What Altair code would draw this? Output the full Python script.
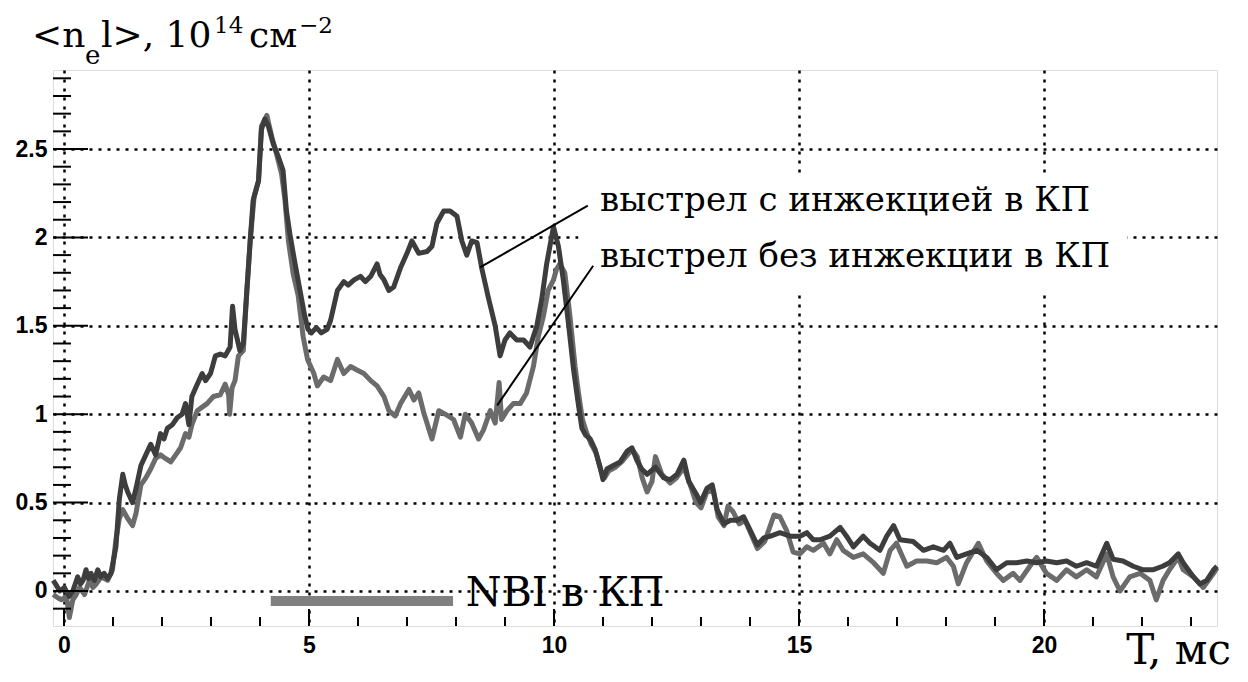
import altair as alt
import pandas as pd

# ---- series: shot with NBI injection into the plug (dark) ----
A_t = [-0.22, -0.15, -0.09, 0.01, 0.06, 0.11, 0.18, 0.28, 0.34, 0.39, 0.45, 0.50, 0.55, 0.62, 0.69, 0.75, 0.82, 0.89, 0.96,
       1.06, 1.13, 1.20, 1.25, 1.30, 1.40, 1.47, 1.57, 1.67, 1.77, 1.87, 1.97, 2.04, 2.11, 2.21, 2.31, 2.41, 2.48, 2.55,
       2.61, 2.72, 2.82, 2.89, 2.99, 3.09, 3.19, 3.29, 3.39, 3.44, 3.49, 3.59, 3.66, 3.73, 3.80, 3.86, 3.97, 4.03, 4.10,
       4.17, 4.27, 4.37, 4.47, 4.54, 4.61, 4.71, 4.81, 4.91, 4.98, 5.05, 5.15, 5.25, 5.37, 5.44, 5.58, 5.71, 5.80, 5.92,
       6.05, 6.15, 6.26, 6.39, 6.45, 6.53, 6.63, 6.73, 6.87, 7.00, 7.10, 7.24, 7.41, 7.51, 7.61, 7.75, 7.88, 8.02, 8.12,
       8.22, 8.32, 8.43, 8.53, 8.66, 8.80, 8.90, 9.00, 9.10, 9.24, 9.38, 9.51, 9.65, 9.75, 9.85, 9.99, 10.09, 10.19, 10.30,
       10.40, 10.50, 10.57, 10.65, 10.74, 10.84, 10.94, 11.00, 11.08, 11.21, 11.35, 11.49, 11.59, 11.69, 11.79, 11.90,
       12.07, 12.24, 12.37, 12.51, 12.65, 12.75, 12.92, 12.99, 13.12, 13.23, 13.33, 13.47, 13.60, 13.74, 13.87, 14.01,
       14.15, 14.28, 14.42, 14.61, 14.82, 15.02, 15.16, 15.29, 15.43, 15.63, 15.84, 15.97, 16.11, 16.31, 16.45, 16.65,
       16.79, 16.93, 17.06, 17.33, 17.54, 17.74, 17.95, 18.08, 18.22, 18.42, 18.63, 18.83, 19.03, 19.24, 19.44, 19.65,
       19.85, 20.05, 20.26, 20.46, 20.66, 20.87, 21.07, 21.28, 21.41, 21.61, 21.82, 22.02, 22.22, 22.42, 22.56, 22.74,
       22.84, 23.05, 23.18, 23.32, 23.46, 23.53]
A_y = [0.06, 0.03, 0.00, 0.02, -0.01, -0.03, 0.00, 0.08, 0.04, 0.06, 0.12, 0.07, 0.10, 0.06, 0.12, 0.08, 0.10, 0.07, 0.10,
       0.25, 0.52, 0.66, 0.60, 0.56, 0.50, 0.58, 0.71, 0.77, 0.83, 0.77, 0.89, 0.86, 0.92, 0.94, 0.98, 1.00, 1.06, 0.94,
       1.10, 1.17, 1.23, 1.19, 1.23, 1.33, 1.34, 1.33, 1.38, 1.61, 1.48, 1.36, 1.40, 1.69, 1.98, 2.21, 2.32, 2.61, 2.67,
       2.63, 2.53, 2.46, 2.38, 2.15, 2.02, 1.86, 1.71, 1.56, 1.48, 1.46, 1.49, 1.46, 1.48, 1.53, 1.70, 1.75, 1.73, 1.76,
       1.78, 1.75, 1.78, 1.85, 1.79, 1.76, 1.70, 1.72, 1.83, 1.91, 1.98, 1.91, 1.92, 1.95, 2.08, 2.15, 2.15, 2.12, 1.98,
       1.90, 1.98, 1.97, 1.82, 1.66, 1.50, 1.33, 1.42, 1.46, 1.42, 1.42, 1.38, 1.50, 1.65, 1.85, 2.06, 1.95, 1.76, 1.50,
       1.25, 1.05, 0.92, 0.88, 0.86, 0.80, 0.70, 0.63, 0.69, 0.71, 0.73, 0.79, 0.81, 0.74, 0.69, 0.66,
       0.70, 0.64, 0.63, 0.66, 0.74, 0.62, 0.54, 0.50, 0.58, 0.60, 0.46, 0.38, 0.40, 0.40, 0.42, 0.34,
       0.26, 0.30, 0.31, 0.33, 0.31, 0.31, 0.33, 0.29, 0.29, 0.31, 0.36, 0.31, 0.25, 0.31, 0.27, 0.23,
       0.31, 0.37, 0.29, 0.28, 0.23, 0.25, 0.23, 0.27, 0.19, 0.21, 0.23, 0.19, 0.12, 0.16, 0.16, 0.17,
       0.16, 0.17, 0.16, 0.17, 0.14, 0.16, 0.14, 0.27, 0.18, 0.17, 0.14, 0.12, 0.12, 0.14, 0.16, 0.21,
       0.16, 0.08, 0.04, 0.06, 0.12, 0.14]

# ---- series: shot without injection (lighter) ----
B_t = [-0.22, -0.12, -0.05, 0.05, 0.11, 0.18, 0.25, 0.32, 0.42, 0.52, 0.59, 0.66, 0.76, 0.89, 0.99, 1.06, 1.13, 1.20,
       1.30, 1.40, 1.47, 1.57, 1.67, 1.77, 1.87, 1.97, 2.07, 2.18, 2.28, 2.38, 2.48, 2.55, 2.61, 2.72, 2.82, 2.92, 3.05,
       3.19, 3.29, 3.36, 3.38, 3.43, 3.49, 3.56, 3.66, 3.73, 3.80, 3.88, 3.97, 4.03, 4.14, 4.24, 4.34, 4.44, 4.51, 4.58,
       4.68, 4.78, 4.88, 4.97, 5.10, 5.17, 5.30, 5.44, 5.58, 5.71, 5.85, 5.98, 6.12, 6.26, 6.39, 6.53, 6.63, 6.76, 6.87,
       7.04, 7.14, 7.24, 7.34, 7.51, 7.65, 7.78, 7.95, 8.09, 8.19, 8.32, 8.46, 8.56, 8.70, 8.80, 8.88, 8.93, 9.04, 9.17,
       9.31, 9.44, 9.58, 9.68, 9.78, 9.88, 9.99, 10.05, 10.12, 10.22, 10.32, 10.43, 10.50, 10.58, 10.66, 10.76, 10.86,
       10.96, 11.03, 11.12, 11.25, 11.38, 11.50, 11.60, 11.70, 11.80, 11.90, 12.00, 12.07, 12.20, 12.37, 12.50, 12.65,
       12.78, 12.90, 13.00, 13.12, 13.25, 13.35, 13.47, 13.55, 13.65, 13.78, 13.90, 14.01, 14.15, 14.30, 14.49, 14.61,
       14.75, 14.88, 15.02, 15.16, 15.29, 15.50, 15.63, 15.77, 15.90, 16.11, 16.31, 16.52, 16.72, 16.86, 16.99, 17.20,
       17.40, 17.61, 17.81, 18.01, 18.15, 18.25, 18.42, 18.66, 18.83, 19.03, 19.17, 19.37, 19.51, 19.71, 19.85, 20.05,
       20.26, 20.46, 20.66, 20.87, 21.07, 21.28, 21.41, 21.55, 21.75, 21.96, 22.16, 22.29, 22.43, 22.56, 22.74, 22.84,
       23.05, 23.25, 23.46, 23.53]
B_y = [-0.02, -0.04, -0.05, -0.03, -0.15, -0.05, -0.02, 0.02, -0.02, 0.06, 0.02, 0.04, 0.08, 0.06, 0.12, 0.29, 0.41, 0.46,
       0.41, 0.37, 0.44, 0.60, 0.64, 0.69, 0.75, 0.77, 0.75, 0.73, 0.77, 0.81, 0.89, 0.87, 0.94, 1.02, 1.04, 1.06, 1.10,
       1.11, 1.17, 1.11, 1.00, 1.15, 1.19, 1.33, 1.36, 1.69, 1.98, 2.23, 2.32, 2.63, 2.69, 2.57, 2.47, 2.36, 2.21, 1.98,
       1.79, 1.67, 1.44, 1.31, 1.23, 1.16, 1.21, 1.19, 1.31, 1.23, 1.27, 1.25, 1.23, 1.19, 1.16, 1.10, 1.02, 0.99, 1.06,
       1.14, 1.08, 1.12, 1.01, 0.86, 1.02, 1.00, 0.97, 0.87, 1.00, 0.95, 0.86, 0.91, 1.02, 0.95, 1.18, 0.97, 1.02, 1.06,
       1.06, 1.12, 1.27, 1.44, 1.55, 1.70, 1.76, 1.82, 1.85, 1.80, 1.57, 1.27, 1.12, 0.97, 0.90, 0.83, 0.78,
       0.68, 0.64, 0.68, 0.70, 0.73, 0.77, 0.80, 0.76, 0.64, 0.56, 0.62, 0.76, 0.66, 0.61, 0.64, 0.70,
       0.60, 0.50, 0.47, 0.56, 0.57, 0.42, 0.37, 0.48, 0.45, 0.38, 0.40, 0.33, 0.24, 0.28, 0.43, 0.42,
       0.34, 0.22, 0.21, 0.25, 0.23, 0.27, 0.21, 0.29, 0.23, 0.19, 0.21, 0.16, 0.10, 0.23, 0.27, 0.14,
       0.17, 0.17, 0.16, 0.19, 0.14, 0.04, 0.16, 0.27, 0.17, 0.10, 0.06, 0.10, 0.06, 0.14, 0.19, 0.10,
       0.06, 0.12, 0.08, 0.12, 0.08, 0.21, 0.08, 0.00, 0.08, 0.10, 0.06, -0.05, 0.06, 0.12, 0.19, 0.12,
       0.08, 0.02, 0.10, 0.13]

# ---- axes / ticks ----
X_MAJOR = [0, 5, 10, 15, 20]
X_MINOR = list(range(0, 24))
Y_MAJOR = [0, 0.5, 1, 1.5, 2, 2.5]
Y_MINOR = [round(-0.1 + 0.1 * i, 1) for i in range(31)]

# ---- annotations (data coordinates) ----
NBI_T = [4.22, 7.94]
NBI_Y = -0.057
NBI_LABEL = "NBI в КП"
LABELS = ["выстрел с инжекцией в КП", "выстрел без инжекции в КП"]
LABEL_T = [10.94, 10.94]
LABEL_Y = [2.15, 1.83]
LEAD_T1 = [10.69, 10.80]
LEAD_Y1 = [2.18, 1.84]
LEAD_T2 = [8.49, 8.84]
LEAD_Y2 = [1.83, 1.05]
BOX_T = [10.5, 21.7]
BOX_Y = [1.70, 2.36]

W, H = 1164, 556
SERIF = "DejaVu Serif"
SANS = "Liberation Sans"

xs = alt.Scale(domain=[-0.224, 23.53], nice=False, zero=False)
ys = alt.Scale(domain=[-0.198, 2.947], nice=False, zero=False)
AX = alt.Axis(values=X_MAJOR, title=None, grid=True, gridDash=[3, 6], gridColor="black", gridWidth=2.5,
              gridOpacity=1, ticks=False, domain=False, labelFont=SANS, labelFontWeight="bold",
              labelFontSize=23, labelColor="black", labelPadding=8, format="~g")
AY = alt.Axis(values=Y_MAJOR, title=None, grid=True, gridDash=[3, 6], gridColor="black", gridWidth=2.5,
              gridOpacity=1, ticks=False, domain=False, labelFont=SANS, labelFontWeight="bold",
              labelFontSize=23, labelColor="black", labelPadding=6, format="~g")


def X(f):
    return alt.X(f, type="quantitative", scale=xs, axis=AX)


def Y(f):
    return alt.Y(f, type="quantitative", scale=ys, axis=AY)


dfA = pd.DataFrame({"t": A_t, "v": A_y})
dfB = pd.DataFrame({"t": B_t, "v": B_y})

lineB = alt.Chart(dfB).mark_line(color="#6b6b6b", strokeWidth=5, strokeJoin="round").encode(x=X("t"), y=Y("v"))
lineA = alt.Chart(dfA).mark_line(color="#3d3d3d", strokeWidth=5, strokeJoin="round").encode(x=X("t"), y=Y("v"))

box = alt.Chart(pd.DataFrame({"t1": [BOX_T[0]], "t2": [BOX_T[1]], "y1": [BOX_Y[0]], "y2": [BOX_Y[1]]})).mark_rect(
    color="white").encode(x=X("t1"), x2="t2", y=Y("y1"), y2="y2")

xminor = alt.Chart(pd.DataFrame({"t": [t for t in X_MINOR if t not in X_MAJOR]})).mark_rule(
    color="black", strokeWidth=2).encode(x=X("t"), y=alt.value(H), y2=alt.value(H - 9))
xmajor = alt.Chart(pd.DataFrame({"t": X_MAJOR})).mark_rule(color="black", strokeWidth=2).encode(
    x=X("t"), y=alt.value(H), y2=alt.value(H - 17))
yminor = alt.Chart(pd.DataFrame({"v": [v for v in Y_MINOR if v not in Y_MAJOR]})).mark_rule(
    color="black", strokeWidth=2).encode(y=Y("v"), x=alt.value(0), x2=alt.value(18))
ymajor = alt.Chart(pd.DataFrame({"v": Y_MAJOR})).mark_rule(color="black", strokeWidth=2).encode(
    y=Y("v"), x=alt.value(0), x2=alt.value(35))

nbi = alt.Chart(pd.DataFrame({"t1": [NBI_T[0]], "t2": [NBI_T[1]], "v": [NBI_Y]})).mark_rule(
    color="#808080", strokeWidth=10).encode(x=X("t1"), x2="t2", y=Y("v"))
nbi_txt = alt.Chart(pd.DataFrame({"t": [8.20], "v": [-0.085], "s": [NBI_LABEL]})).mark_text(
    font=SERIF, fontSize=41, align="left", baseline="alphabetic", color="black").encode(
    x=X("t"), y=Y("v"), text="s:N")

leads = alt.Chart(pd.DataFrame({"t1": LEAD_T1, "y1": LEAD_Y1, "t2": LEAD_T2, "y2": LEAD_Y2})).mark_rule(
    color="black", strokeWidth=2).encode(x=X("t1"), y=Y("y1"), x2="t2", y2="y2")
labels = alt.Chart(pd.DataFrame({"t": LABEL_T, "v": LABEL_Y, "s": LABELS})).mark_text(
    font=SERIF, fontSize=34, align="left", baseline="alphabetic", color="black").encode(
    x=X("t"), y=Y("v"), text="s:N")


def piece(txt, px, py, size):
    return alt.Chart(pd.DataFrame({"s": [txt]})).mark_text(
        font=SERIF, fontSize=size, align="left", baseline="alphabetic", color="black").encode(
        x=alt.value(px), y=alt.value(py), text="s:N")


# title pieces (positions relative to the plot's top-left corner)
title_parts = [
    piece("<n", -21, -23, 36),
    piece("e", 32, -6, 26),
    piece("l>, 10", 48, -23, 36),
    piece("14", 161, -37, 23),
    piece("см", 196, -23, 36),
    piece("−2", 246, -37, 23),
]
tlabel = alt.Chart(pd.DataFrame({"s": ["T, мс"]})).mark_text(
    font=SERIF, fontSize=42, align="right", baseline="alphabetic", color="black").encode(
    x=alt.value(1178), y=alt.value(594), text="s:N")

chart = alt.layer(
    box, lineB, lineA, nbi, nbi_txt, leads, labels, xminor, xmajor, yminor, ymajor, tlabel, *title_parts
).properties(
    width=W, height=H, autosize=alt.AutoSizeParams(type="none"),
    padding={"left": 45, "top": 62, "right": 22, "bottom": 47}
).configure_view(stroke="black", strokeWidth=2.5).configure(background="white")

chart.save("out.html", embed_options={"renderer": "svg", "actions": False})
